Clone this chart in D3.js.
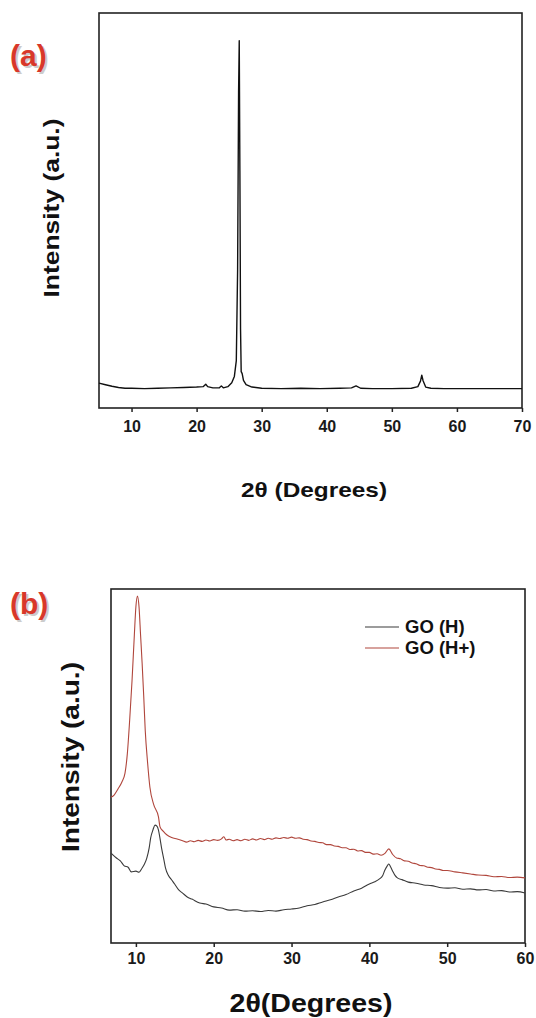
<!DOCTYPE html>
<html>
<head>
<meta charset="utf-8">
<title>XRD patterns</title>
<script src="https://d3js.org/d3.v7.min.js"></script>
<style>
	body { margin: 0; background: #fff; }
	svg { display: block; }
	text { font-family: "Liberation Sans", Arial, sans-serif; }
</style>
</head>
<body>
<script>

// ---- data (intensity in arbitrary units, 0-100) ----

// panel (a): graphite
var graphiteTheta = [5, 6, 7, 8, 9, 10, 12, 14, 16, 18, 20, 21.0, 21.4, 21.7, 22.5, 23.5, 23.8, 24.1, 24.8, 25.4, 25.8, 26.1, 26.3, 26.45, 26.55, 26.65, 26.75, 26.85, 27.0, 27.2, 27.6, 28.5, 30, 33, 36, 39, 42, 43.8, 44.5, 45.2, 47, 50, 53, 54.0, 54.4, 54.6, 54.8, 55.2, 56, 58, 60, 63, 66, 70];
var graphiteI = [6.3, 5.9, 5.5, 5.2, 5.0, 5.0, 4.9, 5.0, 5.1, 5.2, 5.3, 5.4, 6.0, 5.4, 5.1, 5.1, 5.6, 5.1, 5.4, 6.4, 8.0, 12, 35, 80, 93, 60, 20, 9.2, 8.7, 7.0, 5.9, 5.3, 5.0, 4.9, 5.0, 4.9, 5.0, 5.1, 5.6, 5.0, 4.9, 4.9, 5.0, 5.4, 6.8, 8.3, 6.9, 5.3, 5.0, 4.9, 4.9, 4.9, 4.9, 4.9];
var xTicksA = [10, 20, 30, 40, 50, 60, 70];

// panel (b): GO (H) and GO (H+)
var goHTheta = [6.8, 7.5, 8.0, 8.5, 9.0, 9.4, 10.0, 10.4, 10.8, 11.1, 11.4, 11.7, 11.9, 12.2, 12.45, 12.7, 12.9, 13.1, 13.3, 13.6, 13.8, 14.2, 14.6, 15.0, 15.5, 16.0, 16.6, 17.2, 18.2, 19.0, 20, 21, 22, 23, 24, 25, 26, 27, 28, 29, 30, 31, 32, 33, 34, 35, 36, 37, 38, 39, 40, 40.7, 41.3, 41.7, 42.0, 42.3, 42.5, 42.7, 43.0, 43.3, 43.6, 44.2, 45, 46, 47, 48, 49, 50, 51, 52, 53, 54, 55, 56, 57, 58, 59, 60];
var goHI = [25.4, 24.0, 23.2, 21.8, 21.4, 20.1, 20.3, 20.0, 21.2, 22.3, 24.0, 26.8, 29.7, 32.0, 33.3, 33.0, 31.9, 29.5, 26.8, 23.5, 21.2, 19.0, 17.8, 16.6, 15.0, 14.1, 13.0, 12.4, 11.3, 11.0, 10.2, 9.9, 9.3, 9.4, 9.0, 9.1, 8.9, 9.2, 9.0, 9.4, 9.6, 9.9, 10.5, 10.9, 11.6, 12.2, 13.0, 13.7, 14.7, 15.5, 16.7, 17.3, 18.1, 19.0, 20.6, 21.8, 22.3, 21.6, 20.3, 19.1, 18.4, 17.9, 17.2, 16.9, 16.4, 16.2, 15.7, 15.5, 15.6, 15.2, 15.3, 15.0, 15.1, 14.7, 14.8, 14.4, 14.5, 14.1];

var goHpTheta = [6.8, 7.2, 7.7, 8.2, 8.6, 8.9, 9.2, 9.5, 9.8, 10.0, 10.2, 10.4, 10.6, 10.8, 11.0, 11.2, 11.5, 11.8, 12.3, 12.9, 13.1, 13.5, 14.0, 14.6, 15.3, 16.0, 16.5, 17, 17.5, 18, 18.5, 19, 19.5, 20, 20.5, 21, 21.3, 21.6, 22, 22.5, 23, 23.5, 24, 24.5, 25, 25.5, 26, 26.5, 27, 27.5, 28, 28.5, 29, 29.5, 30, 30.5, 31, 31.5, 32, 32.5, 33, 33.5, 34, 34.5, 35, 35.5, 36, 36.5, 37, 37.5, 38, 38.5, 39, 39.5, 40, 40.5, 41, 41.5, 42, 42.5, 43, 43.5, 44, 44.5, 45, 45.5, 46, 46.5, 47, 47.5, 48, 48.5, 49, 49.5, 50, 51, 52, 53, 54, 55, 56, 57, 58, 59, 60];
var goHpI = [41.2, 41.8, 43.5, 45.5, 48.0, 53.5, 63, 74, 87, 95, 98, 95, 87, 79, 70, 60, 51, 44, 39, 35.6, 32.8, 31.6, 30.5, 29.8, 29.4, 28.9, 28.5, 28.9, 28.6, 29.0, 28.7, 29.1, 28.8, 29.2, 29.0, 29.4, 30.0, 29.1, 29.3, 28.9, 29.2, 28.9, 29.3, 29.0, 29.4, 29.1, 29.5, 29.2, 29.6, 29.3, 29.7, 29.5, 29.8, 29.6, 29.9, 29.6, 29.7, 29.3, 29.2, 28.8, 28.7, 28.4, 28.3, 27.8, 27.8, 27.4, 27.3, 26.9, 26.9, 26.4, 26.5, 26.0, 26.1, 25.6, 25.6, 25.1, 25.2, 24.8, 25.3, 26.6, 25.0, 24.0, 23.8, 23.2, 23.1, 22.6, 22.4, 21.9, 21.8, 21.4, 21.3, 20.9, 20.8, 20.5, 20.5, 20.1, 19.8, 19.5, 19.2, 19.1, 18.7, 18.8, 18.5, 18.6, 18.4];
var xTicksB = [10, 20, 30, 40, 50, 60];

var seriesNames = ["GO (H)", "GO (H+)"];
var seriesColors = ["#3a3a3a", "#b0463c"];

// ---- layout ----
var width = 536, height = 1018;

var svg = d3.select("body").append("svg")
	.attr("width", width)
	.attr("height", height);

function zip(xs, ys) {
	return xs.map(function(d, i) { return [d, ys[i]]; });
}

// draws frame + bottom axis, returns scales
function panel(opt) {
	var x = d3.scaleLinear().domain(opt.xDomain).range([opt.left, opt.right]);
	var y = d3.scaleLinear().domain([0, 100]).range([opt.bottom, opt.top]);

	var g = svg.append("g");

	g.append("g")
		.attr("transform", "translate(0," + opt.bottom + ")")
		.call(d3.axisBottom(x).tickValues(opt.ticks).tickSize(4).tickPadding(opt.tickPad).tickFormat(d3.format("d")))
		.call(function(a) {
			a.select(".domain").remove();
			a.selectAll("line").attr("stroke", "#222").attr("stroke-width", 1.5);
			a.selectAll("text")
				.attr("fill", "#1a1a1a")
				.style("font-family", "'Liberation Sans', Arial, sans-serif")
				.style("font-weight", "bold")
				.style("font-size", opt.tickFont + "px");
		});

	g.append("rect")
		.attr("x", opt.left).attr("y", opt.top)
		.attr("width", opt.right - opt.left)
		.attr("height", opt.bottom - opt.top)
		.attr("fill", "none")
		.attr("stroke", "#222")
		.attr("stroke-width", 1.6);

	// panel letter
	g.append("text")
		.attr("x", 10).attr("y", opt.letterY)
		.attr("fill", "#9b9b9b").attr("opacity", 0.5)
		.attr("transform", "translate(2,2)")
		.style("font-weight", "bold").style("font-size", "30px")
		.text(opt.letter);
	g.append("text")
		.attr("x", 10).attr("y", opt.letterY)
		.attr("fill", "#d8382a")
		.style("font-weight", "bold").style("font-size", "30px")
		.text(opt.letter);

	// y title
	g.append("text")
		.attr("transform", "translate(" + opt.yTitleX + "," + opt.yTitleY + ") rotate(-90)")
		.attr("text-anchor", "middle")
		.attr("fill", "#111")
		.attr("textLength", opt.yTitleLen)
		.attr("lengthAdjust", "spacingAndGlyphs")
		.style("font-weight", "bold").style("font-size", opt.yTitleFont + "px")
		.text("Intensity (a.u.)");

	// x title
	g.append("text")
		.attr("x", opt.xTitleX).attr("y", opt.xTitleY)
		.attr("text-anchor", "middle")
		.attr("fill", "#111")
		.attr("textLength", opt.xTitleLen)
		.attr("lengthAdjust", "spacingAndGlyphs")
		.style("font-weight", "bold").style("font-size", opt.xTitleFont + "px")
		.text(opt.xTitle);

	return { x: x, y: y, g: g };
}

// ---- panel (a) ----
var pa = panel({
	xDomain: [5, 70], left: 99, right: 522, top: 13, bottom: 408,
	ticks: xTicksA, tickFont: 16, tickPad: 9, letter: "(a)", letterY: 66,
	yTitleX: 59, yTitleY: 208, yTitleLen: 179, yTitleFont: 22,
	xTitle: "2\u03b8 (Degrees)", xTitleX: 314, xTitleY: 497, xTitleLen: 146, xTitleFont: 21
});

var lineA = d3.line()
	.x(function(d) { return pa.x(d[0]); })
	.y(function(d) { return pa.y(d[1]); });

pa.g.append("path")
	.datum(zip(graphiteTheta, graphiteI))
	.attr("d", lineA)
	.attr("fill", "none")
	.attr("stroke", "#111")
	.attr("stroke-width", 1.4)
	.attr("stroke-linejoin", "round");

// ---- panel (b) ----
var pb = panel({
	xDomain: [6.8, 60], left: 111, right: 525, top: 589, bottom: 943,
	ticks: xTicksB, tickFont: 16, tickPad: 6, letter: "(b)", letterY: 614,
	yTitleX: 79, yTitleY: 757, yTitleLen: 190, yTitleFont: 23,
	xTitle: "2\u03b8(Degrees)", xTitleX: 311, xTitleY: 1012, xTitleLen: 163, xTitleFont: 25
});

var lineB = d3.line()
	.curve(d3.curveMonotoneX)
	.x(function(d) { return pb.x(d[0]); })
	.y(function(d) { return pb.y(d[1]); });

var seriesB = [zip(goHTheta, goHI), zip(goHpTheta, goHpI)];

pb.g.selectAll(".series")
	.data(seriesB)
	.enter().append("path")
	.attr("class", "series")
	.attr("d", lineB)
	.attr("fill", "none")
	.attr("stroke", function(d, i) { return seriesColors[i]; })
	.attr("stroke-width", 1.1);

// legend
var legend = pb.g.append("g").attr("transform", "translate(365,627)");
var item = legend.selectAll(".item")
	.data(seriesNames)
	.enter().append("g")
	.attr("class", "item")
	.attr("transform", function(d, i) { return "translate(0," + (i * 21) + ")"; });
item.append("line")
	.attr("x1", 0).attr("x2", 34)
	.attr("stroke", function(d, i) { return seriesColors[i]; })
	.attr("stroke-width", 1.2);
item.append("text")
	.attr("x", 40).attr("dy", "0.35em")
	.attr("fill", "#111")
	.style("font-weight", "bold").style("font-size", "18.5px")
	.text(function(d) { return d; });

</script>
</body>
</html>
